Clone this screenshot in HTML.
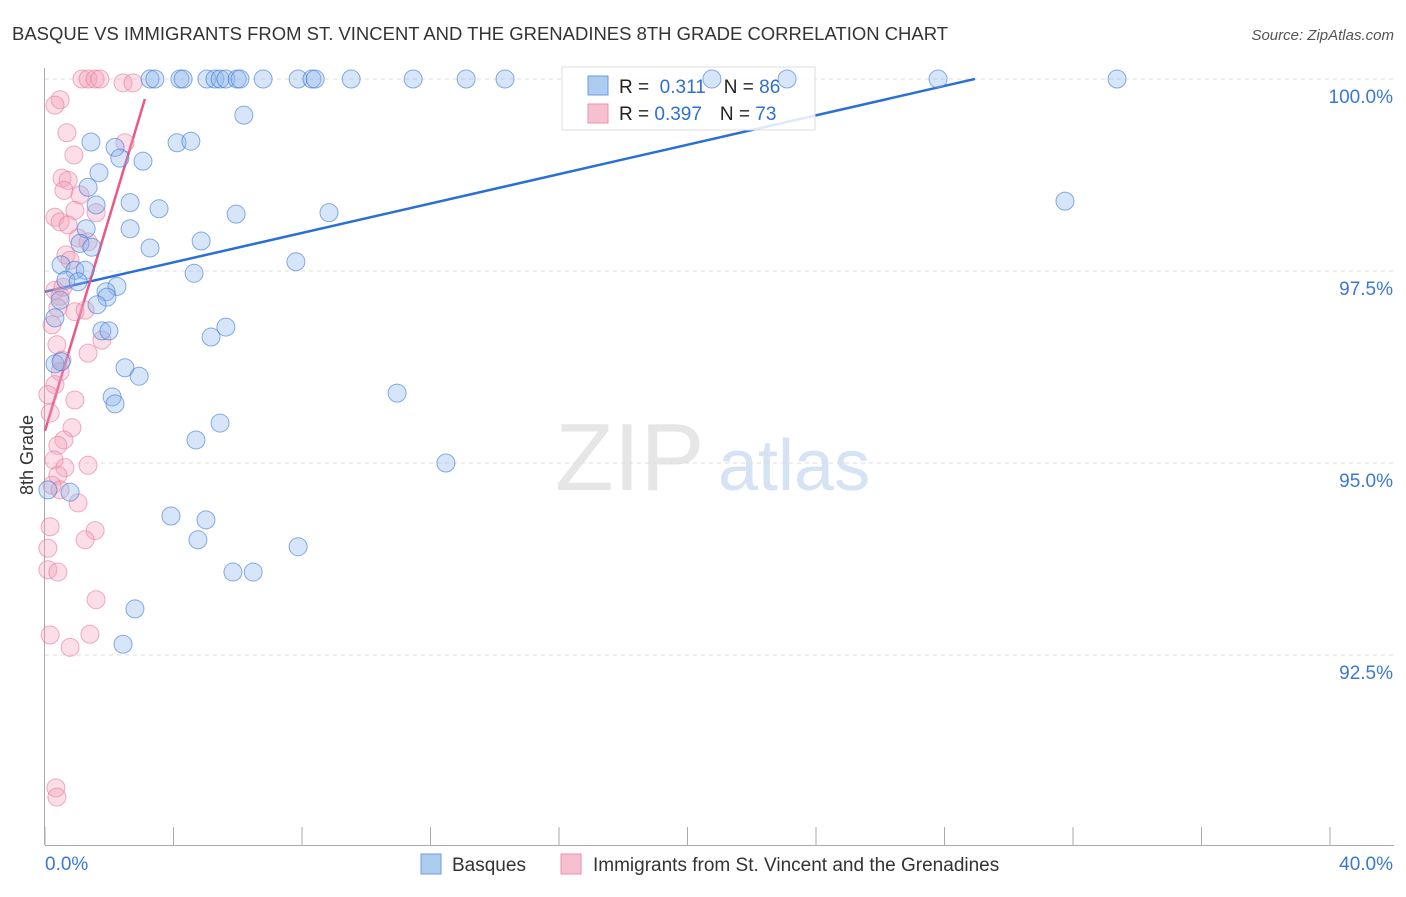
<!DOCTYPE html>
<html><head><meta charset="utf-8"><style>
body{margin:0;background:#fff;font-family:"Liberation Sans",sans-serif}
svg text{font-family:"Liberation Sans",sans-serif}
</style></head><body>
<svg id="c" width="1406" height="892">
<text x="12" y="40" font-size="18" fill="#333" textLength="936" lengthAdjust="spacingAndGlyphs">BASQUE VS IMMIGRANTS FROM ST. VINCENT AND THE GRENADINES 8TH GRADE CORRELATION CHART</text>
<text x="1394" y="40" font-size="15" fill="#555" text-anchor="end" font-style="italic">Source: ZipAtlas.com</text>
<text x="555" y="490" font-size="96" fill="#e6e6e6" font-family="Liberation Serif">ZIP</text>
<text x="718" y="490" font-size="72" fill="#d6e3f5">atlas</text>
<g id="grid"></g><g id="axes"></g><g id="trend"></g>
<g>
<rect x="562" y="67" width="253" height="63" fill="rgba(255,255,255,0.85)" stroke="#ddd"/>
<rect x="588" y="76" width="20" height="19" fill="#aecbf0" stroke="#6a9ee0"/>
<rect x="588" y="104" width="20" height="19" fill="#f7c0d0" stroke="#ec90ad"/>
<text x="619" y="93" font-size="19" fill="#222">R = <tspan fill="#2f6fd0">&#160;0.311</tspan><tspan dx="18" fill="#222">N = </tspan><tspan fill="#2f6fd0">86</tspan></text>
<text x="619" y="120" font-size="19" fill="#222">R = <tspan fill="#2f6fd0">0.397</tspan><tspan dx="18" fill="#222">N = </tspan><tspan fill="#2f6fd0">73</tspan></text>
</g>
<g id="pts"></g>
<g>
<rect x="421" y="854" width="20" height="20" fill="#aecbf0" stroke="#6a9ee0"/>
<text x="452" y="871" font-size="19" fill="#333">Basques</text>
<rect x="561" y="854" width="20" height="20" fill="#f7c0d0" stroke="#ec90ad"/>
<text x="593" y="871" font-size="19" fill="#333">Immigrants from St. Vincent and the Grenadines</text>
</g>
<text x="33" y="455" font-size="18" fill="#333" text-anchor="middle" transform="rotate(-90 33 455)">8th Grade</text>
</svg>
<script>
const blueX=[3.27,3.42,4.20,4.30,5.04,5.29,5.45,5.63,5.98,6.07,6.79,7.88,8.31,8.41,9.53,11.46,13.11,14.32,20.76,23.10,27.80,33.37,6.19,1.43,4.11,4.54,2.18,2.33,3.05,1.68,1.34,1.59,2.65,3.55,5.95,8.84,31.75,1.28,2.65,4.86,1.09,1.46,3.27,0.50,0.93,1.25,7.81,4.64,0.65,1.03,2.24,1.90,1.93,0.47,1.62,0.31,1.77,1.99,5.63,5.17,0.31,0.50,2.49,2.93,10.96,2.09,2.18,5.45,4.70,12.48,0.78,0.09,3.92,5.01,4.76,7.88,5.85,6.48,2.80,2.43];
const blueY=[100,100,100,100,100,100,100,100,100,100,100,100,100,100,100,100,100,100,100,100,100,100,99.53,99.18,99.17,99.19,99.11,98.97,98.93,98.78,98.59,98.36,98.39,98.31,98.24,98.26,98.41,98.05,98.05,97.89,97.86,97.81,97.80,97.58,97.51,97.51,97.62,97.47,97.38,97.36,97.30,97.23,97.16,97.12,97.06,96.89,96.72,96.72,96.77,96.64,96.29,96.32,96.24,96.13,95.91,95.86,95.77,95.52,95.30,95.00,94.62,94.65,94.31,94.26,94.00,93.91,93.58,93.58,93.10,92.64];
const pinkX=[1.15,1.34,1.56,1.71,2.43,2.74,0.47,0.31,0.68,0.90,2.49,0.53,0.72,0.59,1.09,0.31,0.47,0.72,0.93,1.59,1.03,1.34,0.65,0.78,0.31,0.47,0.56,0.40,0.93,1.25,0.22,0.37,1.77,1.34,0.53,0.47,0.31,0.09,0.93,0.84,0.16,0.59,0.40,0.28,1.34,0.62,0.40,0.22,0.47,1.03,0.16,1.56,1.25,0.09,0.09,0.40,1.59,0.16,1.40,0.78,0.34,0.37];
const pinkY=[100,100,100,100,99.95,99.95,99.73,99.66,99.30,99.01,99.17,98.71,98.68,98.55,98.49,98.20,98.14,98.10,98.29,98.26,97.93,97.88,97.71,97.64,97.25,97.17,97.29,97.02,96.97,96.99,96.80,96.54,96.60,96.43,96.34,96.19,96.02,95.89,95.82,95.46,95.65,95.30,95.23,95.04,94.97,94.94,94.84,94.71,94.65,94.48,94.17,94.12,94.00,93.89,93.61,93.58,93.22,92.76,92.77,92.60,90.77,90.65];
const yTicks=[100,97.5,95,92.5];
const yTickLabels=["100.0%","97.5%","95.0%","92.5%"];
const xTicks=[0,4,8,12,16,20,24,28,32,36,40];
const blueTrend=[97.23,0.0957,0,28.95];
const pinkTrend=[95.42,1.389,0,3.11];
const NS='http://www.w3.org/2000/svg';
const sx=v=>45+v*(1285/40);
const sy=v=>79+(100-v)*76.8;
function mk(p,t,a){const e=document.createElementNS(NS,t);for(const k in a)e.setAttribute(k,a[k]);document.getElementById(p).appendChild(e);return e;}
yTicks.forEach((t,i)=>{
 const l=mk('grid','line',{x1:45,x2:1394,y1:sy(t),y2:sy(t),stroke:'#ddd','stroke-dasharray':'4,4'});
 
 
 const tx=mk('grid','text',{x:1393,y:sy(t)+24,'font-size':19,fill:'#3a78d4','text-anchor':'end'});
 tx.textContent=yTickLabels[i];
 
 
});
const ya=mk('axes','line',{x1:44.5,x2:44.5,y1:68,y2:845,stroke:'#aaa'});


const xa=mk('axes','line',{x1:45,x2:1394,y1:845.5,y2:845.5,stroke:'#aaa'});


xTicks.forEach(t=>{const l=mk('axes','line',{x1:sx(t),x2:sx(t),y1:827,y2:845,stroke:'#aaa'});
 
 });
const xl0=mk('axes','text',{x:45,y:870,'font-size':19,fill:'#3a78d4'});xl0.textContent='0.0%';


const xl1=mk('axes','text',{x:1393,y:870,'font-size':19,fill:'#3a78d4','text-anchor':'end'});xl1.textContent='40.0%';


pinkX.forEach((x,i)=>{const c=mk('pts','circle',{cx:sx(x),cy:sy(pinkY[i]),r:9,fill:'rgba(244,160,185,0.35)',stroke:'rgba(232,120,155,0.6)'});
 
 });
blueX.forEach((x,i)=>{const c=mk('pts','circle',{cx:sx(x),cy:sy(blueY[i]),r:9,fill:'rgba(140,180,235,0.35)',stroke:'rgba(60,120,210,0.6)'});
 
 });
function trend(tr,col,name){const[a,b,x0,x1]=tr;const l=mk('trend','line',{x1:sx(x0),y1:sy(a+b*x0),x2:sx(x1),y2:sy(a+b*x1),stroke:col,'stroke-width':2.5});
 
 }
trend(blueTrend,'#2a6fd6','basques-trendline');
trend(pinkTrend,'#e8588a','immigrants-trendline');
</script>
</body></html>
